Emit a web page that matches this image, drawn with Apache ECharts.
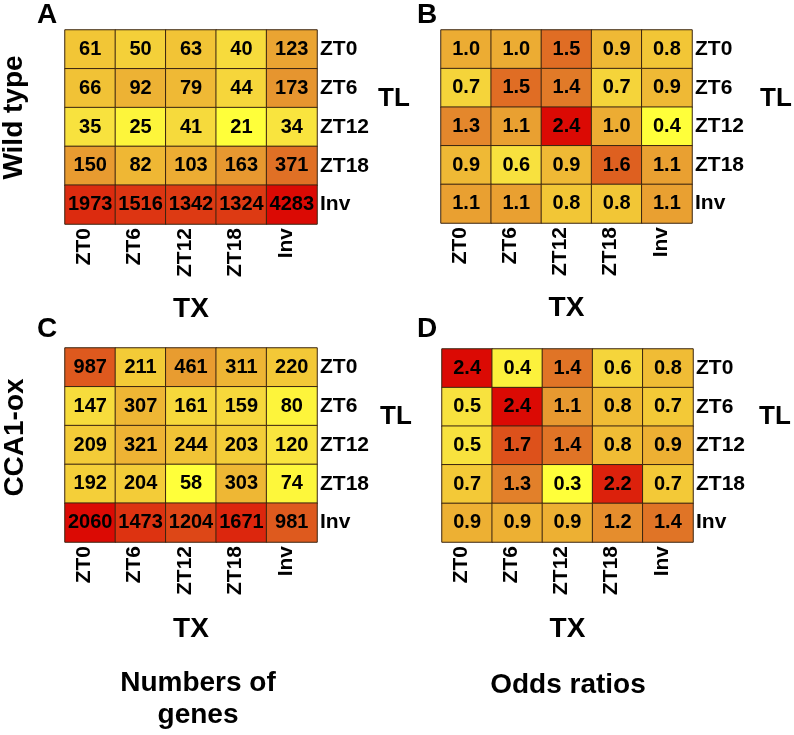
<!DOCTYPE html>
<html>
<head>
<meta charset="utf-8">
<script src="https://cdn.jsdelivr.net/npm/echarts@6/dist/echarts.min.js"></script>
<style>
  html, body { margin: 0; padding: 0; background: #fff; }
  #chart { width: 794px; height: 735px; }
</style>
</head>
<body>
<div id="chart"></div>
<script>
// ---- Data ----
var txCategories = ['ZT0', 'ZT6', 'ZT12', 'ZT18', 'Inv'];   // columns (TX)
var tlCategories = ['ZT0', 'ZT6', 'ZT12', 'ZT18', 'Inv'];   // rows (TL)

// Wild type: numbers of genes (rows = TL, columns = TX)
var wtGenes = [
  [61, 50, 63, 40, 123],
  [66, 92, 79, 44, 173],
  [35, 25, 41, 21, 34],
  [150, 82, 103, 163, 371],
  [1973, 1516, 1342, 1324, 4283]
];
// Wild type: odds ratios
var wtOdds = [
  [1.0, 1.0, 1.5, 0.9, 0.8],
  [0.7, 1.5, 1.4, 0.7, 0.9],
  [1.3, 1.1, 2.4, 1.0, 0.4],
  [0.9, 0.6, 0.9, 1.6, 1.1],
  [1.1, 1.1, 0.8, 0.8, 1.1]
];
// CCA1-ox: numbers of genes
var oxGenes = [
  [987, 211, 461, 311, 220],
  [147, 307, 161, 159, 80],
  [209, 321, 244, 203, 120],
  [192, 204, 58, 303, 74],
  [2060, 1473, 1204, 1671, 981]
];
// CCA1-ox: odds ratios
var oxOdds = [
  [2.4, 0.4, 1.4, 0.6, 0.8],
  [0.5, 2.4, 1.1, 0.8, 0.7],
  [0.5, 1.7, 1.4, 0.8, 0.9],
  [0.7, 1.3, 0.3, 2.2, 0.7],
  [0.9, 0.9, 0.9, 1.2, 1.4]
];

var panelLetters = ['A', 'B', 'C', 'D'];
var rowTitles = ['Wild type', 'CCA1-ox'];
var columnTitles = ['Numbers of\ngenes', 'Odds ratios'];
var xName = 'TX';
var yName = 'TL';

// ---- Styling ----
var FONT = '"Liberation Sans", Arial, Helvetica, sans-serif';
var heatColors = ['#FFFF3A', '#F8E13E', '#F2C636', '#ECAC33', '#E6942F', '#E17A28',
                  '#DE6020', '#DD4A18', '#DD3612', '#DC220C', '#DB0A04'];

var transforms = {
  log: function (v) { return Math.log10(v); },
  sqrt: function (v) { return Math.sqrt(v); },
  linear: function (v) { return v; }
};

var panels = [
  { matrix: wtGenes, scale: 'log',    decimals: 0, grid: { left: 65,  top: 30,  width: 252, height: 194 }, tl: [378, 99] },
  { matrix: wtOdds,  scale: 'linear', decimals: 1, grid: { left: 441, top: 30,  width: 251, height: 193 }, tl: [760, 99] },
  { matrix: oxGenes, scale: 'sqrt',   decimals: 0, grid: { left: 65,  top: 348, width: 252, height: 194 }, tl: [380, 417] },
  { matrix: oxOdds,  scale: 'linear', decimals: 1, grid: { left: 442, top: 349, width: 251, height: 193 }, tl: [759, 417] }
];

var grids = [], xAxes = [], yAxes = [], series = [], visualMaps = [];

panels.forEach(function (p, i) {
  var f = transforms[p.scale];
  var data = [];
  var lo = Infinity, hi = -Infinity;
  p.matrix.forEach(function (row, r) {
    row.forEach(function (v, c) {
      var t = f(v);
      lo = Math.min(lo, t); hi = Math.max(hi, t);
      data.push([c, r, t, v]);
    });
  });
  grids.push(p.grid);
  xAxes.push({
    type: 'category', gridIndex: i, data: txCategories, position: 'bottom',
    axisLine: { show: false }, axisTick: { show: false }, splitLine: { show: false },
    axisLabel: { rotate: 90, margin: 4, fontSize: 21, fontWeight: 'bold', color: '#000',
                 fontFamily: FONT, verticalAlign: 'bottom', lineHeight: 12, interval: 0 },
    name: xName, nameLocation: 'middle', nameGap: (i < 2 ? 71 : 73),
    nameTextStyle: { fontSize: 28, fontWeight: 'bold', color: '#000', fontFamily: FONT }
  });
  yAxes.push({
    type: 'category', gridIndex: i, data: tlCategories, inverse: true, position: 'right',
    axisLine: { show: false }, axisTick: { show: false }, splitLine: { show: false },
    axisLabel: { margin: 3, fontSize: 21, fontWeight: 'bold', color: '#000', fontFamily: FONT, interval: 0 }
  });
  series.push({
    type: 'heatmap', xAxisIndex: i, yAxisIndex: i, data: data,
    itemStyle: { borderColor: '#3a2410', borderWidth: 1 },
    label: {
      show: true, fontSize: 20, fontWeight: 'bold', color: '#000', fontFamily: FONT,
      formatter: (function (d) {
        return function (prm) { return prm.data[3].toFixed(d); };
      })(p.decimals)
    },
    emphasis: { disabled: true },
    silent: true
  });
  visualMaps.push({
    type: 'continuous', show: false, seriesIndex: i, dimension: 2,
    min: lo, max: hi, inRange: { color: heatColors }
  });
});

var graphics = [];
// TL (row-axis) titles
panels.forEach(function (p) {
  graphics.push({
    type: 'text', x: p.tl[0], y: p.tl[1],
    style: { text: yName, fontSize: 26, fontWeight: 'bold', fill: '#000', fontFamily: FONT,
             align: 'left', verticalAlign: 'middle' }
  });
});
var letterPos = [[37, 1], [417, 1], [37, 315], [417, 315]];
panelLetters.forEach(function (L, i) {
  graphics.push({
    type: 'text', left: letterPos[i][0], top: letterPos[i][1],
    style: { text: L, fontSize: 28, fontWeight: 'bold', fill: '#000', fontFamily: FONT }
  });
});
[[14, 117.5], [15, 437.5]].forEach(function (pos, i) {
  graphics.push({
    type: 'text', x: pos[0], y: pos[1], rotation: Math.PI / 2,
    style: { text: rowTitles[i], fontSize: 28, fontWeight: 'bold', fill: '#000', fontFamily: FONT,
             align: 'center', verticalAlign: 'middle' }
  });
});
[[198, 667], [568, 669]].forEach(function (pos, i) {
  graphics.push({
    type: 'text', x: pos[0], y: pos[1],
    style: { text: columnTitles[i], fontSize: 28, fontWeight: 'bold', fill: '#000', fontFamily: FONT,
             align: 'center', verticalAlign: 'top', lineHeight: 32 }
  });
});

var chart = echarts.init(document.getElementById('chart'), null, { renderer: 'canvas' });
chart.setOption({
  backgroundColor: '#ffffff',
  animation: false,
  grid: grids,
  xAxis: xAxes,
  yAxis: yAxes,
  visualMap: visualMaps,
  series: series,
  graphic: graphics
});
</script>
</body>
</html>
